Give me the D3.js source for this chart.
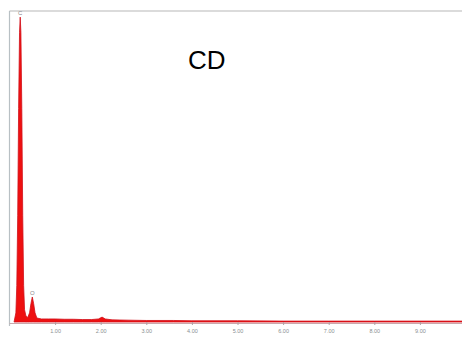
<!DOCTYPE html>
<html>
<head>
<meta charset="utf-8">
<script src="https://cdn.jsdelivr.net/npm/d3@7"></script>
<style>
  body { margin: 0; background: #fff; }
  svg { display: block; }
</style>
</head>
<body>
<svg width="462" height="338"></svg>
<script>
// spectrum (keV, counts as % of the C peak)
var energy = [0.10, 0.14, 0.16, 0.18, 0.20, 0.22, 0.235, 0.25, 0.27, 0.29, 0.31, 0.33, 0.36, 0.40, 0.44, 0.47, 0.50, 0.53, 0.56, 0.60, 0.70, 0.85, 1.00, 1.20, 1.40, 1.60, 1.80, 1.95, 2.03, 2.10, 2.25, 2.60, 3.00, 3.60, 4.00, 5.00, 6.00, 7.00, 8.00, 9.00, 9.95];
var counts = [0, 3, 12, 35, 70, 95, 100, 95, 70, 35, 12, 4, 2, 1.5, 3, 6, 8.2, 6, 3, 1.3, 1, 1, 1, 0.9, 0.9, 0.8, 0.8, 1, 1.6, 1, 0.7, 0.6, 0.5, 0.5, 0.4, 0.4, 0.3, 0.3, 0.3, 0.3, 0.3];

var peakNames = ["C", "O"];
var peakEnergy = [0.235, 0.50];
var peakCounts = [100, 8.2];

var tickValues = [1, 2, 3, 4, 5, 6, 7, 8, 9];
var tickLabels = ["1.00", "2.00", "3.00", "4.00", "5.00", "6.00", "7.00", "8.00", "9.00"];

var svg = d3.select("svg");

var x = d3.scaleLinear().domain([0, 10]).range([9.5, 465.5]);
var y = d3.scaleLinear().domain([0, 102]).range([322, 11]);

var data = energy.map((e, i) => ({ e: e, c: counts[i] }));

// frame (top + left)
svg.append("line")
  .attr("x1", 9.5).attr("x2", 462)
  .attr("y1", 11).attr("y2", 11)
  .attr("stroke", "#b8b8b8").attr("stroke-width", 1.2);
svg.append("line")
  .attr("x1", 9.5).attr("x2", 9.5)
  .attr("y1", 11).attr("y2", 326)
  .attr("stroke", "#b8c0c4").attr("stroke-width", 1.2);

// spectrum
var area = d3.area()
  .x((d) => x(d.e))
  .y0(y(0))
  .y1((d) => y(d.c));

svg.append("path")
  .datum(data)
  .attr("d", area)
  .attr("fill", "#ee1010")
  .attr("stroke", "#d0101a")
  .attr("stroke-width", 0.8);

// baseline axis
svg.append("line")
  .attr("x1", 9.5).attr("x2", 462)
  .attr("y1", 323.5).attr("y2", 323.5)
  .attr("stroke", "#c9a8ac").attr("stroke-width", 1);

var xAxis = d3.axisBottom(x)
  .tickValues(tickValues)
  .tickFormat((d, i) => tickLabels[i])
  .tickSize(3)
  .tickPadding(4);

var ax = svg.append("g")
  .attr("transform", "translate(0,322)")
  .call(xAxis);
ax.select(".domain").remove();
ax.selectAll("line").attr("stroke", "#b0a0a4");
ax.selectAll("text")
  .attr("fill", "#8a8f92")
  .attr("font-family", "Liberation Sans, Arial, sans-serif")
  .attr("font-size", "5.5px");

// peak labels
svg.selectAll(".peak")
  .data(peakNames)
  .enter()
  .append("text")
  .attr("class", "peak")
  .attr("x", (d, i) => x(peakEnergy[i]))
  .attr("y", (d, i) => y(peakCounts[i]) - 2)
  .attr("text-anchor", "middle")
  .attr("fill", "#8a8a8a")
  .attr("font-family", "Liberation Sans, Arial, sans-serif")
  .attr("font-size", "6px")
  .text((d) => d);

// sample name
svg.append("text")
  .attr("x", 188)
  .attr("y", 69)
  .attr("font-family", "Liberation Sans, Arial, sans-serif")
  .attr("font-size", "26px")
  .attr("fill", "#000")
  .text("CD");
</script>
</body>
</html>
